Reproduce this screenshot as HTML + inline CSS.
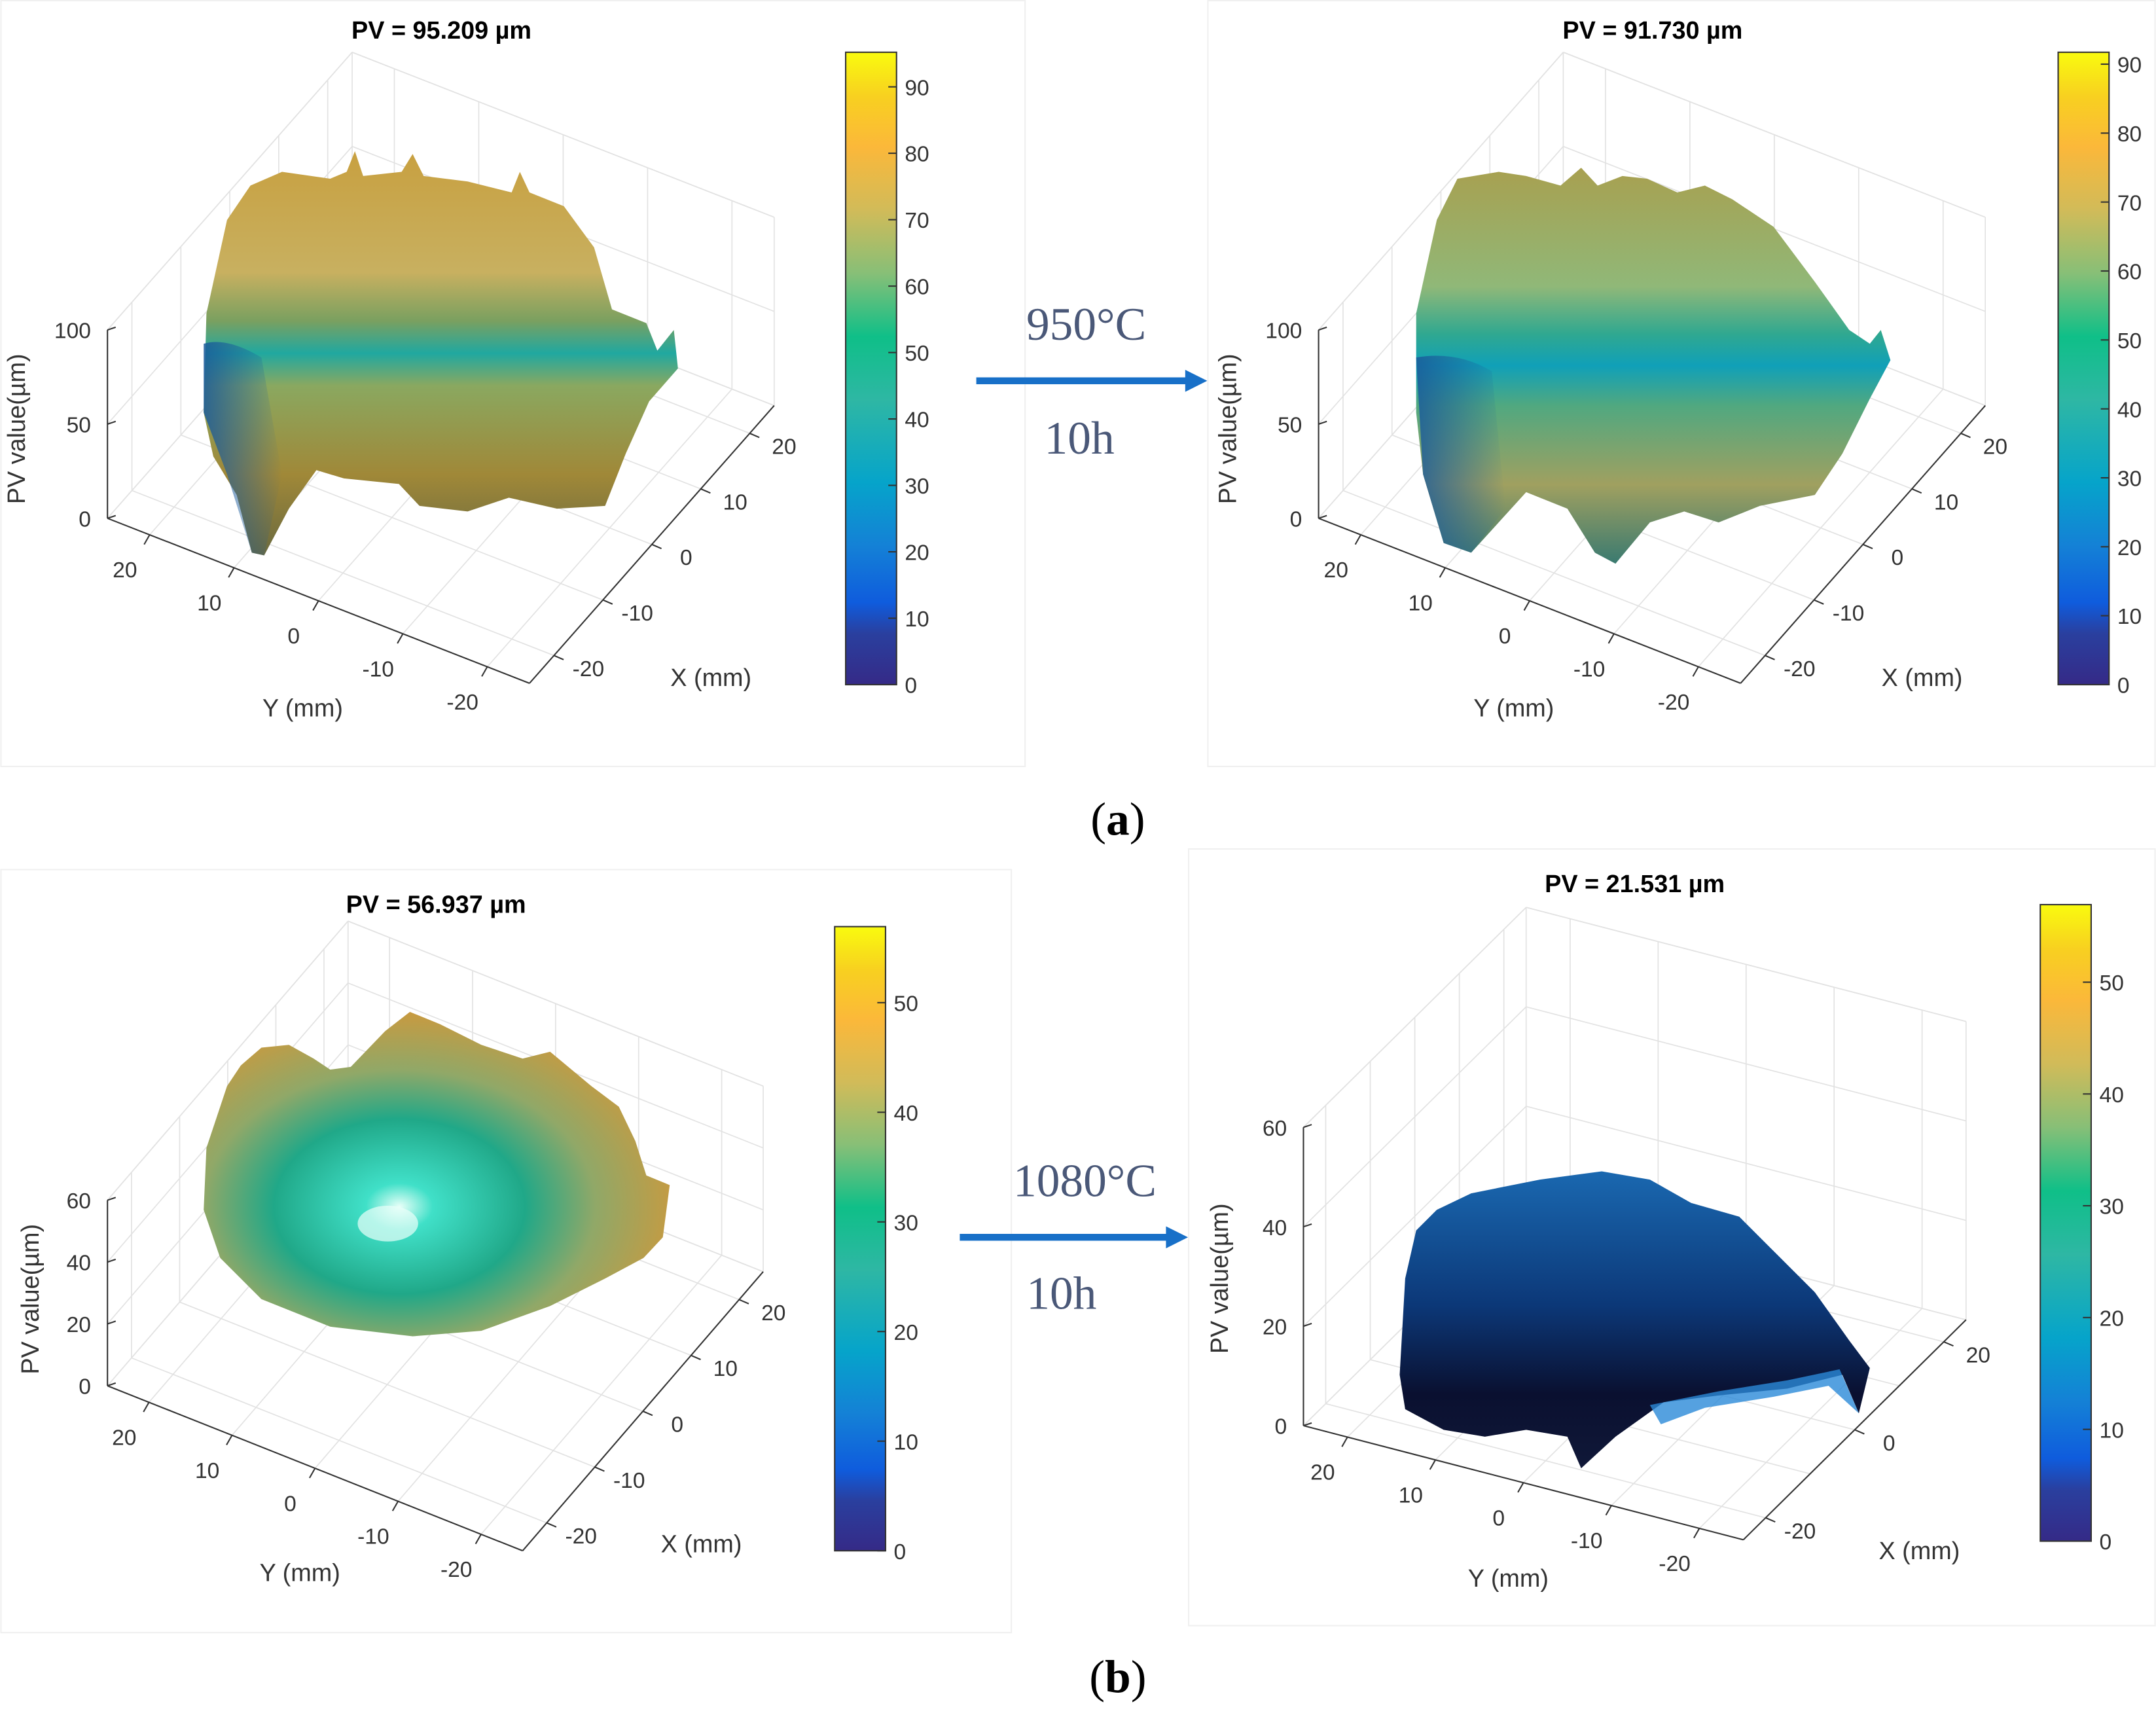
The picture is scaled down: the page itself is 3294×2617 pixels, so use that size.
<!DOCTYPE html>
<html><head><meta charset="utf-8"><style>
html,body{margin:0;padding:0;background:#fff;}
svg{display:block;}
.t{font-family:"Liberation Sans",sans-serif;fill:#333;font-size:16px;}
.ti{font-family:"Liberation Sans",sans-serif;fill:#000;font-size:18px;font-weight:bold;}
.sr{font-family:"Liberation Serif",serif;fill:#4a5878;font-size:34px;}
.cap{font-family:"Liberation Serif",serif;fill:#000;font-size:34px;}
</style></head><body>
<svg id="fig" width="3294" height="2617" viewBox="0 0 1568 1246" xmlns="http://www.w3.org/2000/svg">
<defs>
<linearGradient id="parula" x1="0" y1="1" x2="0" y2="0">
<stop offset="0" stop-color="#352a87"/><stop offset="0.08" stop-color="#2a3f9e"/><stop offset="0.13" stop-color="#0f5cdd"/>
<stop offset="0.22" stop-color="#1481d6"/><stop offset="0.32" stop-color="#06a4ca"/><stop offset="0.45" stop-color="#2eb7a4"/>
<stop offset="0.55" stop-color="#0fbf88"/><stop offset="0.65" stop-color="#87bf77"/><stop offset="0.75" stop-color="#d1bb59"/>
<stop offset="0.85" stop-color="#fbb83a"/><stop offset="0.93" stop-color="#f8d020"/><stop offset="1" stop-color="#f9fb0e"/>
</linearGradient>
<linearGradient id="s1" x1="0" y1="0" x2="0" y2="1">
<stop offset="0" stop-color="#c8a040"/><stop offset="0.3" stop-color="#c8b060"/><stop offset="0.42" stop-color="#7aa060"/>
<stop offset="0.5" stop-color="#20a8a0"/><stop offset="0.58" stop-color="#8aa860"/><stop offset="0.8" stop-color="#a08838"/><stop offset="1" stop-color="#6a6a40"/>
</linearGradient>
<linearGradient id="s2" x1="0" y1="0" x2="0" y2="1">
<stop offset="0" stop-color="#a8a050"/><stop offset="0.3" stop-color="#90b878"/><stop offset="0.42" stop-color="#30a890"/>
<stop offset="0.5" stop-color="#10a0b8"/><stop offset="0.6" stop-color="#50a880"/><stop offset="0.8" stop-color="#a0a060"/><stop offset="1" stop-color="#3a7a70"/>
</linearGradient>
<linearGradient id="lb" x1="0" y1="0" x2="1" y2="0">
<stop offset="0" stop-color="#1a5a9a" stop-opacity="0.85"/><stop offset="1" stop-color="#1a5a9a" stop-opacity="0"/>
</linearGradient>
<radialGradient id="s3" cx="0.42" cy="0.6" r="0.6">
<stop offset="0" stop-color="#e8fff8"/><stop offset="0.12" stop-color="#40e0c8"/><stop offset="0.45" stop-color="#20a888"/>
<stop offset="0.7" stop-color="#90a868"/><stop offset="1" stop-color="#c89a40"/>
</radialGradient>
<linearGradient id="s4" x1="0" y1="0" x2="0" y2="1">
<stop offset="0" stop-color="#1a68b0"/><stop offset="0.45" stop-color="#0c3878"/><stop offset="0.75" stop-color="#0a1030"/><stop offset="1" stop-color="#101838"/>
</linearGradient>
</defs>
<rect width="1568" height="1246" fill="#fff"/>
<rect x="0.5" y="0.5" width="745" height="557" fill="none" stroke="#f0f0f0"/>
<rect x="878.5" y="0.5" width="689" height="557" fill="none" stroke="#f0f0f0"/>
<rect x="0.5" y="632.5" width="735" height="555" fill="none" stroke="#f0f0f0"/>
<rect x="864.5" y="617.5" width="703" height="565" fill="none" stroke="#f0f0f0"/>
<g id="grids"></g>
<path fill="url(#s1)" d="M150,228 L165,160 L182,135 L205,125 L240,130 L252,125 L258,110 L264,128 L292,125 L300,112 L308,128 L340,132 L372,140 L378,125 L385,140 L410,150 L432,180 L445,225 L470,235 L478,255 L490,240 L493,268 L472,292 L455,330 L440,368 L405,370 L370,362 L340,372 L305,368 L290,352 L250,348 L230,342 L210,370 L192,404 L183,402 L172,360 L155,332 L148,300 Z"/>
<path fill="url(#lb)" d="M148,250 Q165,245 190,260 L205,345 L192,404 L183,402 L165,345 L148,300 Z"/>
<path fill="url(#s2)" d="M1030,228 L1045,160 L1060,130 L1090,125 L1110,128 L1135,135 L1150,122 L1162,135 L1180,128 L1198,130 L1220,140 L1240,135 L1260,145 L1290,165 L1320,205 L1345,240 L1360,250 L1368,240 L1375,262 L1360,290 L1340,330 L1320,360 L1280,368 L1250,380 L1225,372 L1200,380 L1175,410 L1160,402 L1140,370 L1110,358 L1090,380 L1070,402 L1050,395 L1035,345 L1030,300 Z"/>
<path fill="url(#lb)" d="M1030,260 Q1060,255 1085,270 L1095,370 L1070,402 L1050,395 L1035,345 Z"/>
<path fill="url(#s3)" d="M150,835 L165,790 L175,775 L190,762 L210,760 L228,770 L240,778 L255,776 L280,750 L298,736 L320,745 L350,760 L380,770 L400,765 L430,790 L450,805 L462,830 L470,855 L487,862 L482,900 L468,915 L440,930 L400,950 L350,968 L300,972 L240,965 L190,945 L160,915 L148,880 Z"/>
<ellipse cx="282" cy="890" rx="22" ry="13" fill="#eafffa" opacity="0.7"/>
<path fill="url(#s4)" d="M1018,1000 L1022,930 L1030,895 L1045,880 L1070,868 L1120,858 L1165,852 L1200,858 L1230,875 L1265,885 L1290,910 L1320,940 L1345,975 L1360,995 L1352,1028 L1340,1000 L1300,1010 L1250,1015 L1210,1020 L1175,1045 L1150,1068 L1140,1045 L1110,1040 L1080,1045 L1050,1040 L1022,1025 Z"/>
<path fill="#2a8ad8" opacity="0.8" d="M1200,1022 L1250,1012 L1300,1004 L1338,996 L1352,1028 L1330,1008 L1290,1016 L1240,1024 L1208,1036 Z"/>
<g>
<line x1="710" y1="277" x2="864" y2="277" stroke="#1870c8" stroke-width="5"/>
<polygon points="862,269 878,277 862,285" fill="#1870c8"/>
</g>
<text class="sr" x="790" y="247" text-anchor="middle">950°C</text>
<text class="sr" x="785" y="330" text-anchor="middle">10h</text>
<g>
<line x1="698" y1="900" x2="850" y2="900" stroke="#1870c8" stroke-width="5"/>
<polygon points="848,892 864,900 848,908" fill="#1870c8"/>
</g>
<text class="sr" x="789" y="870" text-anchor="middle">1080°C</text>
<text class="sr" x="772" y="952" text-anchor="middle">10h</text>
<text class="cap" x="813" y="607" text-anchor="middle">(<tspan font-weight="bold">a</tspan>)</text>
<text class="cap" x="813" y="1231" text-anchor="middle">(<tspan font-weight="bold">b</tspan>)</text>
<g id="labels"></g>
</svg>
<script>
const cbTicksA1 = [0,10,20,30,40,50,60,70,80,90];
const cbTicksA2 = [0,10,20,30,40,50,60,70,80,90];
const cbTicksB = [0,10,20,30,40,50];
const cbMaxA1 = 95.209, cbMaxA2 = 91.730, cbMaxB1 = 56.937, cbMaxB2 = 56.937;
const zTicksA = [0,50,100];
const zTicksB = [0,20,40,60];
const xyTicksFull = [20,10,0,-10,-20];
const xTicksB2 = [-20,0,20];
const titles = ["PV = 95.209 µm","PV = 91.730 µm","PV = 56.937 µm","PV = 21.531 µm"];

const NS="http://www.w3.org/2000/svg";
const grids=document.getElementById('grids'), labels=document.getElementById('labels');
function mk(tag,attrs,parent){const e=document.createElementNS(NS,tag);for(const k in attrs)e.setAttribute(k,attrs[k]);parent.appendChild(e);return e;}
function txt(x,y,s,cls,anchor,parent){const e=mk('text',{x:x,y:y,class:cls,'text-anchor':anchor||'middle'},parent);e.textContent=s;return e;}

const panels=[
 {L:[78,377],F:[385,497],R:[563,295],zmax:100,zh:137,zTicks:zTicksA,boxTop:100,xt:xyTicksFull,
  xlab:[517,499],ylab:[220,521],zlab:[18,312],title:[321,28],cb:{x:615,y0:498,y1:38,max:cbMaxA1,ticks:cbTicksA1}},
 {L:[959,377],F:[1266,497],R:[1444,295],zmax:100,zh:137,zTicks:zTicksA,boxTop:100,xt:xyTicksFull,
  xlab:[1398,499],ylab:[1101,521],zlab:[899,312],title:[1202,28],cb:{x:1497,y0:498,y1:38,max:cbMaxA2,ticks:cbTicksA2}},
 {L:[78,1008],F:[380,1128],R:[555,925],zmax:60,zh:135,zTicks:zTicksB,boxTop:60,xt:xyTicksFull,
  xlab:[510,1129],ylab:[218,1150],zlab:[28,945],title:[317,664],cb:{x:607,y0:1128,y1:674,max:cbMaxB1,ticks:cbTicksB}},
 {L:[948,1037],F:[1268,1120],R:[1430,960],zmax:60,zh:217,zTicks:zTicksB,boxTop:60,xt:xTicksB2,
  xlab:[1396,1134],ylab:[1097,1154],zlab:[893,930],title:[1189,649],cb:{x:1484,y0:1121,y1:658,max:cbMaxB2,ticks:cbTicksB}}
];
function lerp(a,b,t){return [a[0]+(b[0]-a[0])*t,a[1]+(b[1]-a[1])*t];}
panels.forEach((p,i)=>{
  const g=mk('g',{},grids);
  
  
  const B=[p.L[0]+p.R[0]-p.F[0],p.L[1]+p.R[1]-p.F[1]];
  const H=p.zh*p.boxTop/p.zmax;
  const gc='#e2e2e2';
  for(let k=0;k<=4;k++){
    const t=(k*10+5)/50;
    let a=lerp(p.L,B,t), b=lerp(p.F,p.R,t);
    mk('line',{x1:a[0],y1:a[1],x2:b[0],y2:b[1],stroke:gc,'stroke-width':0.8},g);
    a=lerp(p.L,p.F,t); b=lerp(B,p.R,t);
    mk('line',{x1:a[0],y1:a[1],x2:b[0],y2:b[1],stroke:gc,'stroke-width':0.8},g);
    let c=lerp(p.L,B,t); mk('line',{x1:c[0],y1:c[1],x2:c[0],y2:c[1]-H,stroke:gc,'stroke-width':0.8},g);
    c=lerp(B,p.R,t); mk('line',{x1:c[0],y1:c[1],x2:c[0],y2:c[1]-H,stroke:gc,'stroke-width':0.8},g);
  }
  p.zTicks.forEach(z=>{const dz=p.zh*z/p.zmax;
    mk('line',{x1:p.L[0],y1:p.L[1]-dz,x2:B[0],y2:B[1]-dz,stroke:gc,'stroke-width':0.8},g);
    mk('line',{x1:B[0],y1:B[1]-dz,x2:p.R[0],y2:p.R[1]-dz,stroke:gc,'stroke-width':0.8},g);});
  mk('line',{x1:p.L[0],y1:p.L[1]-H,x2:B[0],y2:B[1]-H,stroke:gc,'stroke-width':0.8},g);
  mk('line',{x1:B[0],y1:B[1]-H,x2:p.R[0],y2:p.R[1]-H,stroke:gc,'stroke-width':0.8},g);
  mk('line',{x1:B[0],y1:B[1],x2:B[0],y2:B[1]-H,stroke:gc,'stroke-width':0.8},g);
  mk('line',{x1:p.R[0],y1:p.R[1],x2:p.R[0],y2:p.R[1]-H,stroke:gc,'stroke-width':0.8},g);
  mk('line',{x1:p.L[0],y1:p.L[1],x2:B[0],y2:B[1],stroke:gc,'stroke-width':0.8},g);
  mk('line',{x1:B[0],y1:B[1],x2:p.R[0],y2:p.R[1],stroke:gc,'stroke-width':0.8},g);

  const lg=mk('g',{},labels);
  
  
  const zTop=p.L[1]-p.zh;
  mk('line',{x1:p.L[0],y1:p.L[1],x2:p.L[0],y2:zTop,stroke:'#333','stroke-width':1},lg);
  mk('line',{x1:p.L[0],y1:p.L[1],x2:p.F[0],y2:p.F[1],stroke:'#333','stroke-width':1},lg);
  mk('line',{x1:p.F[0],y1:p.F[1],x2:p.R[0],y2:p.R[1],stroke:'#333','stroke-width':1},lg);
  p.zTicks.forEach(z=>{const y=p.L[1]-p.zh*z/p.zmax;
    mk('line',{x1:p.L[0],y1:y,x2:p.L[0]+6,y2:y-2,stroke:'#333'},lg);
    const e=txt(p.L[0]-12,y+6,String(z),'t','end',lg);
    
    });
  xyTicksFull.forEach(v=>{const t=(20-v+5)/50;const q=lerp(p.L,p.F,t);
    mk('line',{x1:q[0],y1:q[1],x2:q[0]-4,y2:q[1]+7,stroke:'#333'},lg);
    const e=txt(q[0]-18,q[1]+31,String(v),'t','middle',lg);
    
    });
  p.xt.forEach(v=>{const t=(v+20+5)/50;const q=lerp(p.F,p.R,t);
    mk('line',{x1:q[0],y1:q[1],x2:q[0]+7,y2:q[1]+3,stroke:'#333'},lg);
    const e=txt(q[0]+25,q[1]+15,String(v),'t','middle',lg);
    
    });
  let e=txt(p.xlab[0],p.xlab[1],'X (mm)','t','middle',lg); e.style.fontSize='18px';
  
  
  e=txt(p.ylab[0],p.ylab[1],'Y (mm)','t','middle',lg); e.style.fontSize='18px';
  
  
  e=txt(p.zlab[0],p.zlab[1],'PV value(µm)','t','middle',lg); e.style.fontSize='18px';
  e.setAttribute('transform','rotate(-90 '+p.zlab[0]+' '+p.zlab[1]+')');
  
  
  e=txt(p.title[0],p.title[1],titles[i],'ti','middle',lg);
  
  
  const c=p.cb;
  const cg=mk('g',{},labels);
  
  
  mk('rect',{x:c.x,y:c.y1,width:37,height:c.y0-c.y1,fill:'url(#parula)',stroke:'#333','stroke-width':1},cg);
  c.ticks.forEach(v=>{const y=c.y0-(c.y0-c.y1)*v/c.max;
    mk('line',{x1:c.x+31,y1:y,x2:c.x+37,y2:y,stroke:'#333'},cg);
    const t=txt(c.x+43,y+6,String(v),'t','start',cg);
    
    });
});
</script>
</body></html>
